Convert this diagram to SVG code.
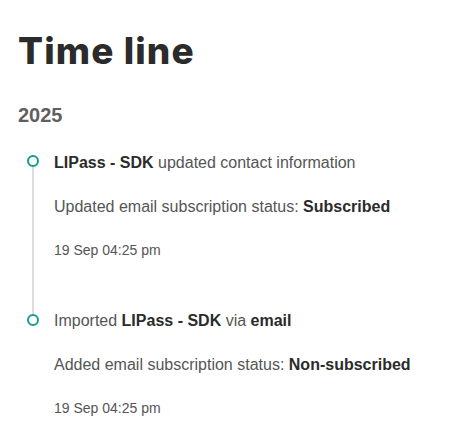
<svg xmlns="http://www.w3.org/2000/svg" width="474" height="444" viewBox="0 0 474 444">
<style>
.t{font-family:"Liberation Sans",Arial,sans-serif;font-size:16px;fill:#555}
.b{font-weight:bold;fill:#2b2b2b}
.d{font-family:"Liberation Sans",Arial,sans-serif;font-size:14px;fill:#555}
.dot{fill:#fff;stroke:#179c87;stroke-width:2}
</style>
<rect width="474" height="444" fill="#fff"/>
<text x="18" y="64" font-family="Inter,'Noto Sans',sans-serif" font-weight="800" font-size="37" letter-spacing="1.1" fill="#2b2b2b">Time line</text>
<text x="18" y="122" font-family="'Liberation Sans',Arial,sans-serif" font-weight="bold" font-size="20" fill="#5f5f5f">2025</text>
<g id="connectors">
<line x1="33" y1="167" x2="33" y2="314" stroke="#dcdcdc" stroke-width="2"/>
</g>
<g id="event1">
<circle class="dot" cx="33" cy="161" r="5"/>
<text class="t" x="54" y="167.5"><tspan class="b">LIPass - SDK</tspan> updated contact information</text>
<text class="t" x="54" y="211.5">Updated email subscription status: <tspan class="b">Subscribed</tspan></text>
<text class="d" x="54" y="254.5">19 Sep 04:25 pm</text>
</g>
<g id="event2">
<circle class="dot" cx="33" cy="320" r="5"/>
<text class="t" x="54" y="325.5">Imported <tspan class="b">LIPass - SDK</tspan> via <tspan class="b">email</tspan></text>
<text class="t" x="54" y="369.5">Added email subscription status: <tspan class="b">Non-subscribed</tspan></text>
<text class="d" x="54" y="412.5">19 Sep 04:25 pm</text>
</g>
</svg>
